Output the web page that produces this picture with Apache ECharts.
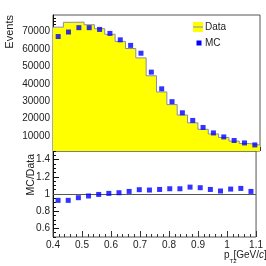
<!DOCTYPE html>
<html><head><meta charset="utf-8">
<script src="https://cdn.jsdelivr.net/npm/echarts@6/dist/echarts.min.js"></script>
<style>html,body{margin:0;padding:0;background:#fff}#c{width:266px;height:266px}</style>
</head><body><div id="c"></div>
<script>
// bin edges of p_T2 [GeV/c]
const binEdges = [0.4,0.435,0.47,0.505,0.54,0.575,0.61,0.645,0.68,0.715,0.75,0.785,0.82,0.855,0.89,0.925,0.96,0.995,1.03,1.065,1.1];
// Events per bin
const dataValues = [72600,75400,75500,74000,71700,68500,64400,60300,54900,44600,35300,28000,22000,17500,13800,11100,9100,7000,5600,4700];
const mcValues   = [67200,69800,72300,72300,71300,69000,65300,62100,57600,46700,37100,29700,23300,18900,14850,11700,9400,7350,5950,4800];
// MC/Data ratio
const ratioValues = [0.926,0.926,0.957,0.977,0.995,1.007,1.015,1.03,1.05,1.046,1.053,1.061,1.061,1.08,1.073,1.053,1.035,1.057,1.065,1.03];
// tick labels
const xTicks = [0.4,0.5,0.6,0.7,0.8,0.9,1.0,1.1];
const yEventTicks = [10000,20000,30000,40000,50000,60000,70000];
const yEventMinor = [2000,4000,6000,8000,12000,14000,16000,18000,22000,24000,26000,28000,32000,34000,36000,38000,42000,44000,46000,48000,52000,54000,56000,58000,62000,64000,66000,68000,72000,74000,76000,78000];
const yRatioTicks = [0.6,0.8,1.0,1.2,1.4];
const yRatioMinor = [0.5,0.55,0.65,0.7,0.75,0.85,0.9,0.95,1.05,1.1,1.15,1.25,1.3,1.35,1.45,1.5];

const centers = dataValues.map((_, i) => (binEdges[i] + binEdges[i+1]) / 2);
const stepPts = dataValues.map((v, i) => [binEdges[i], v]);
stepPts.push([binEdges[binEdges.length-1], dataValues[dataValues.length-1]]);

const FONT = 'Liberation Sans, Arial, Helvetica, sans-serif';
const TXT = '#222';
const chart = echarts.init(document.getElementById('c'), null, {renderer:'canvas'});

function xAxisCfg(grid, showLabel, majLen, minLen) {
  return {
    type:'value', gridIndex:grid, min:0.4, max:1.1, interval:0.1,
    axisLine:{show:false},
    axisTick:{show:true, inside:true, length:majLen, lineStyle:{color:'#333', width:1}},
    minorTick:{show:true, splitNumber:5, length:minLen, lineStyle:{color:'#333', width:1}},
    splitLine:{show:false}, minorSplitLine:{show:false},
    axisLabel:{show:showLabel, margin:3, fontSize:10, fontFamily:FONT, color:TXT,
      formatter: v => String(Math.round(v*10)/10)}
  };
}

chart.setOption({
  animation:false,
  grid:[
    {left:53, right:6, top:15, height:136, show:true, borderColor:'#555', borderWidth:1, backgroundColor:'transparent'},
    {left:53, right:6, top:151, height:86, show:true, borderColor:'#555', borderWidth:1, backgroundColor:'transparent'}
  ],
  xAxis:[ xAxisCfg(0,false,4,2), xAxisCfg(1,true,6,3) ],
  yAxis:[
    {type:'value', gridIndex:0, min:1300, max:79600, position:'left',
     axisLine:{show:true, lineStyle:{color:'#111'}},
     axisTick:{show:true, inside:true, length:6, customValues:yEventTicks, lineStyle:{color:'#111'}},
     axisLabel:{show:true, customValues:yEventTicks, margin:3, fontSize:10, fontFamily:FONT, color:TXT, formatter:v=>String(v)},
     splitLine:{show:false}},
    {type:'value', gridIndex:0, min:1300, max:79600, position:'left',
     axisLine:{show:false},
     axisTick:{show:true, inside:true, length:3, customValues:yEventMinor, lineStyle:{color:'#111'}},
     axisLabel:{show:false}, splitLine:{show:false}},
    {type:'value', gridIndex:1, min:0.5, max:1.5, position:'left',
     axisLine:{show:true, lineStyle:{color:'#111'}},
     axisTick:{show:true, inside:true, length:6, customValues:yRatioTicks, lineStyle:{color:'#111'}},
     axisLabel:{show:true, customValues:yRatioTicks, margin:3, fontSize:10, fontFamily:FONT, color:TXT, formatter:v=>String(Math.round(v*10)/10)},
     splitLine:{show:false}},
    {type:'value', gridIndex:1, min:0.5, max:1.5, position:'left',
     axisLine:{show:false},
     axisTick:{show:true, inside:true, length:3, customValues:yRatioMinor, lineStyle:{color:'#111'}},
     axisLabel:{show:false}, splitLine:{show:false}}
  ],
  series:[
    {type:'line', name:'Data', xAxisIndex:0, yAxisIndex:0, step:'end', data:stepPts,
     symbol:'none', lineStyle:{color:'#8a8aac', width:1},
     areaStyle:{color:'#ffff00', opacity:1, origin:'start'}, z:2},
    {type:'scatter', name:'MC', xAxisIndex:0, yAxisIndex:0,
     data:centers.map((x,i)=>[x, mcValues[i]]),
     symbol:'rect', symbolSize:5, itemStyle:{color:'#0000ff'}, z:5},
    {type:'scatter', name:'Ratio', xAxisIndex:1, yAxisIndex:2,
     data:centers.map((x,i)=>[x, ratioValues[i]]),
     symbol:'rect', symbolSize:5, itemStyle:{color:'#0000ff'}, z:5,
     markLine:{silent:true, symbol:'none', label:{show:false},
       lineStyle:{color:'#555', width:1, type:'solid'}, data:[{yAxis:1}]}}
  ],
  graphic:[
    {type:'text', x:9.5, y:15, rotation:Math.PI/2,
     style:{text:'Events', fontSize:11, fontFamily:FONT, fill:TXT, align:'right', verticalAlign:'middle'}},
    {type:'text', x:31.5, y:154, rotation:Math.PI/2,
     style:{text:'MC/Data', fontSize:10.5, fontFamily:FONT, fill:TXT, align:'right', verticalAlign:'middle'}},
    {type:'text', x:224, y:255,
     style:{text:'p', fontSize:10, fontFamily:FONT, fill:TXT, align:'left', verticalAlign:'middle'}},
    {type:'text', x:229.5, y:261,
     style:{text:'T2', fontSize:6, fontFamily:FONT, fill:TXT, align:'left', verticalAlign:'middle'}},
    {type:'text', x:233.5, y:255,
     style:{text:'[GeV/{i|c}]', fontSize:10, fontFamily:FONT, fill:TXT, align:'left', verticalAlign:'middle',
       rich:{i:{fontSize:10, fontStyle:'italic', fontFamily:FONT, fill:TXT}}}},
    // legend
    {type:'rect', shape:{x:193, y:22, width:10, height:10}, style:{fill:'#ffff00'}},
    {type:'line', shape:{x1:193, y1:27, x2:203, y2:27}, style:{stroke:'#8a8aac', lineWidth:1}},
    {type:'text', x:205, y:27, style:{text:'Data', fontSize:10, fontFamily:FONT, fill:TXT, align:'left', verticalAlign:'middle'}},
    {type:'rect', shape:{x:196.5, y:40.5, width:5, height:5}, style:{fill:'#0000ff'}},
    {type:'text', x:205, y:43, style:{text:'MC', fontSize:10, fontFamily:FONT, fill:TXT, align:'left', verticalAlign:'middle'}}
  ]
});
</script></body></html>
